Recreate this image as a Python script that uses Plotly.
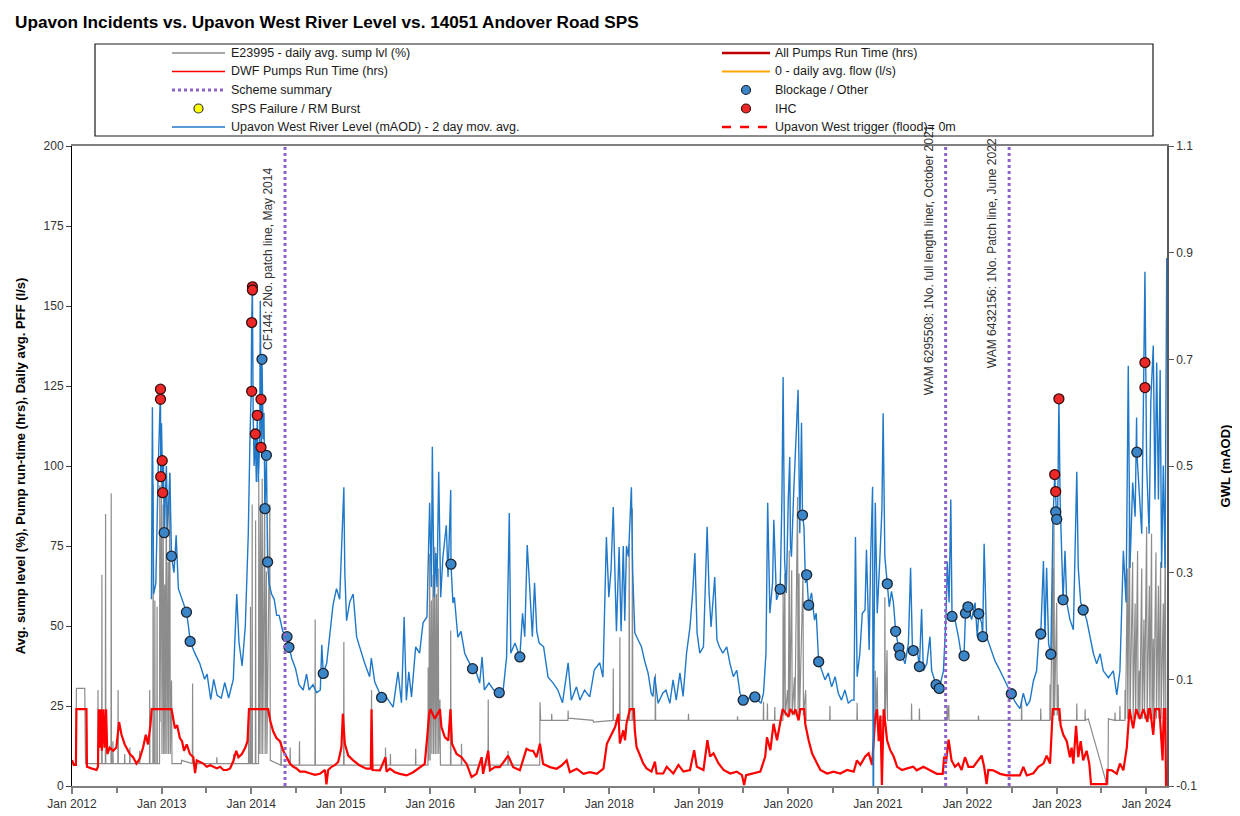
import plotly.graph_objects as go

# ---------------- DATA ----------------
river_dates = [
"2012-11-20","2012-11-24","2012-11-29","2012-12-08","2012-12-18","2012-12-27","2012-12-28","2012-12-31","2013-01-03","2013-01-05",
"2013-01-08","2013-01-11","2013-01-20","2013-01-25","2013-02-03","2013-02-10","2013-02-20","2013-03-01","2013-03-10","2013-03-25",
"2013-04-12","2013-04-20","2013-04-27","2013-05-15","2013-06-05","2013-06-25","2013-07-05","2013-07-20","2013-08-01","2013-08-15",
"2013-09-01","2013-09-15","2013-10-01","2013-10-20","2013-11-03","2013-11-12","2013-11-25","2013-12-08","2013-12-20","2013-12-27",
"2014-01-01","2014-01-03","2014-01-06","2014-01-09","2014-01-13","2014-01-18","2014-01-22","2014-01-26","2014-01-30","2014-02-05",
"2014-02-07","2014-02-10","2014-02-12","2014-02-14","2014-02-19","2014-02-22","2014-02-26","2014-03-04","2014-03-09","2014-03-15",
"2014-03-25","2014-04-05","2014-04-15","2014-04-25","2014-05-10","2014-05-27","2014-06-04","2014-06-15","2014-07-01","2014-07-15",
"2014-08-01","2014-08-15","2014-08-25","2014-09-10","2014-09-25","2014-10-10","2014-10-16","2014-10-22","2014-11-05","2014-11-20",
"2014-12-01","2014-12-15","2014-12-28","2015-01-14","2015-01-18","2015-01-25","2015-02-07","2015-02-21","2015-03-07","2015-03-20",
"2015-04-09","2015-04-29","2015-05-06","2015-05-20","2015-06-17","2015-07-06","2015-08-03","2015-08-23","2015-09-06","2015-09-17",
"2015-09-26","2015-10-06","2015-10-17","2015-11-03","2015-11-19","2015-12-03","2015-12-19","2015-12-30","2016-01-06","2016-01-10",
"2016-01-17","2016-01-24","2016-01-29","2016-02-05","2016-02-13","2016-02-22","2016-03-07","2016-03-14","2016-03-25","2016-03-26",
"2016-04-03","2016-04-09","2016-04-23","2016-05-06","2016-05-21","2016-06-03","2016-06-22","2016-07-08","2016-07-21","2016-07-31",
"2016-08-09","2016-08-28","2016-09-16","2016-10-09","2016-10-25","2016-11-08","2016-11-19","2016-11-25","2016-12-12","2017-01-01",
"2017-01-12","2017-01-21","2017-01-31","2017-02-10","2017-02-21","2017-03-02","2017-03-11","2017-03-21","2017-04-08","2017-04-26",
"2017-05-17","2017-06-05","2017-06-24","2017-07-17","2017-07-30","2017-08-20","2017-09-03","2017-09-22","2017-10-13","2017-11-01",
"2017-11-23","2017-12-06","2017-12-20","2017-12-30","2018-01-08","2018-01-17","2018-01-30","2018-02-10","2018-02-18","2018-02-27",
"2018-03-05","2018-03-12","2018-03-20","2018-04-01","2018-04-06","2018-04-15","2018-04-28","2018-05-12","2018-05-27","2018-06-08",
"2018-06-21","2018-06-28","2018-07-05","2018-07-19","2018-08-07","2018-08-20","2018-09-05","2018-09-18","2018-10-01","2018-10-16",
"2018-10-29","2018-11-12","2018-11-26","2018-12-07","2018-12-16","2018-12-25","2019-01-05","2019-01-20","2019-02-04","2019-02-12",
"2019-02-20","2019-03-07","2019-03-16","2019-03-26","2019-04-09","2019-04-25","2019-05-08","2019-05-22","2019-06-05","2019-06-18",
"2019-07-01","2019-07-21","2019-08-04","2019-08-18","2019-08-31","2019-09-12","2019-09-22","2019-10-02","2019-10-09","2019-10-18",
"2019-10-29","2019-11-03","2019-11-14","2019-11-29","2019-12-06","2019-12-11","2019-12-17","2019-12-24","2020-01-01","2020-01-07",
"2020-01-10","2020-01-14","2020-01-23","2020-02-10","2020-02-17","2020-02-24","2020-02-28","2020-03-05","2020-03-11","2020-03-16",
"2020-03-24","2020-04-05","2020-04-17","2020-04-24","2020-05-04","2020-05-16","2020-05-30","2020-06-12","2020-06-26","2020-07-10",
"2020-07-23","2020-08-05","2020-08-19","2020-09-02","2020-09-15","2020-09-25","2020-10-01","2020-10-08","2020-10-19","2020-10-29",
"2020-11-09","2020-11-15","2020-11-26","2020-12-02","2020-12-10","2020-12-13","2020-12-15","2020-12-21","2020-12-29","2021-01-09",
"2021-01-17","2021-01-22","2021-01-29","2021-02-08","2021-02-16","2021-02-25","2021-03-05","2021-03-14","2021-03-27","2021-04-01",
"2021-04-08","2021-04-21","2021-05-05","2021-05-14","2021-05-22","2021-05-25","2021-06-08","2021-06-19","2021-06-28","2021-07-05",
"2021-07-19","2021-08-01","2021-08-08","2021-08-26","2021-09-08","2021-09-25","2021-10-05","2021-10-11","2021-10-18","2021-10-25",
"2021-10-30","2021-11-11","2021-11-25","2021-12-08","2021-12-18","2021-12-24","2022-01-03","2022-01-18","2022-02-01","2022-02-10",
"2022-02-16","2022-02-28","2022-03-04","2022-03-10","2022-03-20","2022-04-03","2022-04-23","2022-05-14","2022-06-03","2022-06-29",
"2022-07-14","2022-08-03","2022-08-17","2022-08-31","2022-09-13","2022-09-27","2022-10-10","2022-10-21","2022-10-27","2022-11-07",
"2022-11-13","2022-11-20","2022-11-28","2022-12-07","2022-12-16","2022-12-23","2022-12-27","2022-12-31","2023-01-04","2023-01-09",
"2023-01-14","2023-01-26","2023-02-03","2023-02-10","2023-02-23","2023-03-09","2023-03-23","2023-03-29","2023-04-08","2023-04-18",
"2023-05-02","2023-05-16","2023-05-30","2023-06-12","2023-06-26","2023-07-09","2023-07-30","2023-08-19","2023-09-02","2023-09-15",
"2023-09-29","2023-10-10","2023-10-19","2023-10-26","2023-11-06","2023-11-16","2023-11-22","2023-11-23","2023-12-03","2023-12-13",
"2023-12-20","2023-12-26","2024-01-02","2024-01-12","2024-01-19","2024-01-29","2024-02-05","2024-02-12","2024-02-19","2024-02-26",
"2024-03-03","2024-03-10","2024-03-17","2024-03-24"]
river_level = [
0.25,0.61,0.26,0.28,0.50,0.645,0.48,0.58,0.51,0.45,
0.52,0.375,0.50,0.38,0.487,0.331,0.30,0.37,0.27,0.25,
0.226,0.20,0.171,0.15,0.13,0.10,0.11,0.062,0.10,0.07,
0.065,0.094,0.065,0.10,0.26,0.17,0.125,0.20,0.37,0.55,
0.64,0.77,0.836,0.60,0.50,0.56,0.47,0.595,0.47,0.55,
0.81,0.625,0.535,0.70,0.55,0.60,0.42,0.52,0.32,0.28,
0.26,0.25,0.22,0.22,0.19,0.18,0.16,0.14,0.12,0.09,
0.08,0.11,0.08,0.09,0.075,0.08,0.165,0.111,0.13,0.19,
0.24,0.27,0.25,0.46,0.30,0.21,0.245,0.26,0.18,0.16,
0.13,0.105,0.14,0.095,0.066,0.067,0.048,0.114,0.056,0.217,
0.061,0.114,0.067,0.161,0.149,0.206,0.217,0.431,0.273,0.536,
0.254,0.337,0.273,0.489,0.254,0.329,0.389,0.292,0.455,0.316,
0.243,0.254,0.179,0.19,0.149,0.136,0.120,0.112,0.093,0.142,
0.080,0.093,0.080,0.075,0.08,0.142,0.412,0.149,0.168,0.142,
0.224,0.18,0.352,0.273,0.18,0.281,0.19,0.168,0.161,0.104,
0.093,0.08,0.056,0.131,0.061,0.086,0.061,0.08,0.067,0.118,
0.131,0.104,0.367,0.254,0.305,0.423,0.19,0.348,0.19,0.35,
0.21,0.35,0.33,0.46,0.305,0.187,0.174,0.161,0.131,0.112,
0.074,0.068,0.105,0.055,0.074,0.08,0.055,0.099,0.061,0.112,
0.068,0.149,0.198,0.262,0.337,0.187,0.149,0.161,0.386,0.262,
0.198,0.292,0.174,0.161,0.149,0.161,0.13,0.105,0.117,0.074,
0.061,0.061,0.074,0.067,0.061,0.055,0.074,0.149,0.431,0.224,
0.281,0.399,0.249,0.269,0.436,0.667,0.324,0.262,0.436,0.517,
0.349,0.33,0.449,0.643,0.374,0.581,0.408,0.386,0.281,0.296,
0.239,0.262,0.211,0.224,0.133,0.117,0.099,0.112,0.086,0.105,
0.074,0.061,0.08,0.055,0.061,0.061,0.367,0.105,0.149,0.224,
0.23,0.343,0.155,0.33,0.461,-0.3,0.13,0.431,0.224,0.33,
0.418,0.599,0.33,0.279,0.236,0.265,0.244,0.190,0.159,0.145,
0.148,0.129,0.167,0.309,0.148,0.154,0.161,0.124,0.232,0.116,
0.129,0.18,0.116,0.090,0.083,0.116,0.212,0.321,0.244,0.437,
0.218,0.212,0.18,0.142,0.144,0.224,0.236,0.212,0.244,0.18,
0.223,0.205,0.180,0.354,0.18,0.161,0.135,0.116,0.097,0.073,
0.058,0.045,0.074,0.05,0.06,0.097,0.116,0.193,0.185,0.322,
0.18,0.309,0.167,0.147,0.399,0.484,0.452,0.400,0.414,0.626,
0.437,0.249,0.341,0.244,0.212,0.193,0.489,0.309,0.244,0.230,
0.212,0.18,0.148,0.129,0.148,0.116,0.103,0.116,0.071,0.116,
0.341,0.244,0.688,0.309,0.469,0.405,0.591,0.526,0.437,0.373,
0.629,0.864,0.501,0.373,0.623,0.726,0.437,0.694,0.437,0.68,
0.309,0.501,0.309,0.89]

pump_dates = [
"2012-01-01","2012-01-08","2012-01-17","2012-01-19","2012-02-29","2012-03-02","2012-03-20","2012-04-10","2012-04-16","2012-04-19",
"2012-04-23","2012-04-28","2012-05-02","2012-05-08","2012-05-13","2012-05-19","2012-05-24","2012-06-03","2012-06-17","2012-06-30",
"2012-07-11","2012-07-21","2012-08-03","2012-08-24","2012-09-06","2012-09-20","2012-10-03","2012-10-17","2012-10-28","2012-11-06",
"2012-11-16","2012-11-21","2013-02-10","2013-02-17","2013-02-24","2013-03-05","2013-03-16","2013-03-25","2013-04-02","2013-04-13",
"2013-04-26","2013-05-10","2013-05-17","2013-05-24","2013-06-07","2013-06-20","2013-07-04","2013-07-18","2013-07-31","2013-08-14",
"2013-08-27","2013-09-10","2013-09-24","2013-10-07","2013-10-21","2013-11-01","2013-11-10","2013-11-24","2013-12-08","2013-12-17",
"2013-12-23","2014-03-11","2014-03-21","2014-04-01","2014-04-14","2014-04-28","2014-05-12","2014-05-25","2014-06-08","2014-06-22",
"2014-07-05","2014-07-19","2014-08-08","2014-08-28","2014-09-18","2014-10-08","2014-10-29","2014-11-04","2014-11-11","2014-11-25",
"2014-12-08","2014-12-22","2015-01-04","2015-01-10","2015-01-14","2015-01-18","2015-02-01","2015-02-21","2015-03-20","2015-04-16",
"2015-05-04","2015-05-07","2015-05-11","2015-06-10","2015-07-03","2015-07-07","2015-07-21","2015-08-10","2015-08-31","2015-09-27",
"2015-10-24","2015-11-20","2015-12-10","2015-12-20","2015-12-28","2016-01-02","2016-01-20","2016-02-03","2016-02-10","2016-02-16",
"2016-03-01","2016-03-15","2016-03-24","2016-03-30","2016-04-18","2016-05-08","2016-05-29","2016-06-18","2016-07-08","2016-07-29",
"2016-08-04","2016-08-25","2016-09-01","2016-09-21","2016-10-11","2016-11-01","2016-11-14","2016-12-05","2017-01-01","2017-01-28",
"2017-02-10","2017-02-24","2017-03-10","2017-03-24","2017-04-06","2017-05-04","2017-05-31","2017-06-20","2017-07-11","2017-07-24",
"2017-08-21","2017-09-17","2017-10-14","2017-11-11","2017-12-08","2017-12-22","2018-01-11","2018-01-25","2018-02-07","2018-02-13",
"2018-02-27","2018-03-06","2018-03-12","2018-03-19","2018-03-26","2018-04-11","2018-04-15","2018-04-22","2018-05-06","2018-05-19",
"2018-06-02","2018-06-22","2018-07-06","2018-07-13","2018-08-09","2018-08-23","2018-09-19","2018-10-10","2018-10-30","2018-11-26",
"2018-12-13","2018-12-24","2019-01-20","2019-02-05","2019-02-16","2019-03-02","2019-03-22","2019-04-12","2019-05-09","2019-06-05",
"2019-06-26","2019-07-05","2019-07-13","2019-08-12","2019-09-09","2019-09-29","2019-10-06","2019-10-20","2019-11-02","2019-11-16",
"2019-11-29","2019-12-09","2020-01-02","2020-01-09","2020-01-23","2020-01-30","2020-02-12","2020-02-19","2020-03-06","2020-03-10",
"2020-03-24","2020-04-07","2020-04-27","2020-05-11","2020-06-07","2020-07-04","2020-07-31","2020-08-28","2020-09-24","2020-10-07",
"2020-10-21","2020-11-10","2020-11-24","2020-12-08","2020-12-21","2020-12-28","2021-01-04","2021-01-11","2021-01-17","2021-01-24",
"2021-01-31","2021-02-07","2021-02-20","2021-03-06","2021-03-20","2021-04-09","2021-04-30","2021-05-25","2021-06-08","2021-07-05",
"2021-08-01","2021-08-29","2021-09-22","2021-09-28","2021-10-05","2021-10-16","2021-10-28","2021-11-11","2021-11-25","2021-12-08",
"2021-12-22","2022-01-05","2022-01-25","2022-02-15","2022-02-28","2022-03-10","2022-03-20","2022-03-27","2022-04-16","2022-05-14",
"2022-06-10","2022-07-07","2022-08-03","2022-08-17","2022-08-31","2022-09-27","2022-10-17","2022-11-07","2022-11-20","2022-12-04",
"2022-12-15","2023-01-11","2023-01-16","2023-01-27","2023-02-10","2023-02-23","2023-03-02","2023-03-09","2023-03-20","2023-03-29",
"2023-04-08","2023-04-18","2023-05-02","2023-05-13","2023-05-20","2023-07-23","2023-07-26","2023-08-13","2023-09-02","2023-09-15",
"2023-09-29","2023-10-13","2023-10-24","2023-11-08","2023-11-20","2023-12-06","2023-12-20","2024-01-05","2024-01-10","2024-01-16",
"2024-01-29","2024-02-05","2024-02-23","2024-02-28","2024-03-07","2024-03-12","2024-03-18","2024-03-21"]
pump_hours = [
8.1,6.6,6.6,24,24,6.0,5.5,5.0,6,24,
12,24,11,24,12,24,10,12,11,12,
20,16,13,10,9,7,8.5,12,16,13,
19,24,24,21,18,19,15,14,11,13,
10,9,4,8,7.5,7,6,6.5,6,5.5,
6,5,5,5.5,8,11,9,10,12,14,
24,24,20,17,15,14,11,9,7,6,
5.5,4.5,4.5,4,3.5,3.8,5,0.5,5,6,
6.5,7.5,12,22.6,17,13.2,9.5,8,6.4,5.4,
5.5,24,5,4.9,9,4.5,5.4,4.3,3.8,3.3,
4.3,5.9,6.9,15.3,22.6,24,21,23,24,18.4,
15.3,14.2,24,13.2,10,9,6.9,2.8,3.8,9,
3.8,11,4.9,5.9,5.9,8,9.5,5.9,4.9,11.6,
11.1,11,9,13.2,6.9,5.9,5.4,6.4,8,4.3,
5.4,3.8,4.3,3.8,5.4,13.2,16.3,18.5,22.6,13.3,
17.4,14.3,19.5,21.6,24,24,17.4,12.2,9.2,7.1,
5.5,4.5,7.6,3.9,3.9,6,3.9,6.6,4.5,5,
11.2,6,5,14.3,9.2,10.2,7.1,5,3.9,4.5,
3.4,0.3,3.4,3.9,4.5,9.2,15.2,11.2,19.5,14.3,
20.5,24,21.6,24,22.5,24,20.5,24,24,19.5,
14.3,10.2,7.1,5,3.9,4.5,3.9,5,4.5,8,
6.6,9.2,10.2,6.6,21.6,24,14,22,0.3,24,
19.5,14.3,11.2,9.2,6,5,5.5,6,4.9,6,
4.9,3.8,3.8,9.2,7,14.5,8,6,7,5,
9,6,6,8,9.5,6,0.6,5,4.9,3.8,
3.3,3.3,3.3,6,3.3,4,6,7,9.5,7,
24,24,19,16,14,9,12,7,18.8,9,
14,8,11,7,0.6,0.6,5,4.9,3.8,7,
4.9,12,24,18,24,21,24,20,24,24,
16,24,24,18,8,24,24,0]

sump_dates = [
"2012-01-01","2012-01-17","2012-01-19","2012-02-22","2012-02-25","2012-04-15","2012-04-16","2012-04-17","2012-05-01","2012-05-02",
"2012-05-03","2012-05-16","2012-05-17","2012-05-18","2012-06-08","2012-06-09","2012-06-10","2012-06-15","2012-06-16","2012-06-17",
"2012-07-06","2012-07-07","2012-07-08","2012-08-02","2012-08-03","2012-08-04","2012-08-23","2012-08-24","2012-08-25","2012-10-02",
"2012-10-03","2012-10-04","2012-11-12","2012-11-13","2012-11-14","2012-11-26","2012-11-27","2012-11-28","2012-12-03","2012-12-04",
"2012-12-05","2012-12-12","2012-12-13","2012-12-14","2012-12-23","2012-12-24","2012-12-25","2012-12-31","2013-01-02","2013-01-07",
"2013-01-09","2013-01-13","2013-01-15","2013-01-20","2013-01-22","2013-01-27","2013-01-29","2013-02-03","2013-02-05","2013-02-10",
"2013-02-12","2013-03-22","2013-03-23","2013-05-06","2013-05-07","2013-05-08","2013-08-13","2013-08-14","2013-08-15","2013-10-20",
"2013-10-21","2013-10-22","2013-12-21","2013-12-22","2013-12-23","2013-12-28","2013-12-29","2013-12-30","2014-01-04","2014-01-05",
"2014-01-06","2014-01-18","2014-01-19","2014-01-20","2014-01-31","2014-02-01","2014-02-03","2014-02-08","2014-02-10","2014-02-15",
"2014-02-17","2014-02-25","2014-02-27","2014-03-04","2014-03-06","2014-03-18","2014-03-20","2014-05-02","2014-05-03","2014-05-04",
"2014-06-08","2014-06-09","2014-06-10","2014-07-16","2014-07-17","2014-07-18","2014-09-18","2014-09-19","2014-09-20","2015-01-13",
"2015-01-14","2015-01-15","2015-05-06","2015-05-07","2015-05-08","2015-07-02","2015-07-03","2015-07-04","2015-07-22","2015-07-23",
"2015-07-24","2015-11-02","2015-11-03","2015-11-04","2015-12-23","2015-12-24","2015-12-26","2015-12-30","2016-01-01","2016-01-06",
"2016-01-08","2016-01-13","2016-01-15","2016-01-20","2016-01-22","2016-01-27","2016-01-29","2016-02-03","2016-02-05","2016-02-10",
"2016-02-12","2016-03-24","2016-03-25","2016-03-26","2016-05-07","2016-05-08","2016-05-09","2016-07-31","2016-08-01","2016-08-02",
"2016-08-24","2016-08-25","2016-08-26","2016-11-13","2016-11-14","2016-11-15","2017-03-23","2017-03-24","2017-03-27","2017-05-10",
"2017-05-11","2017-05-12","2017-07-16","2017-07-17","2017-07-18","2017-10-27","2017-10-28","2018-01-16","2018-01-17","2018-01-18",
"2018-02-12","2018-02-13","2018-02-14","2018-03-22","2018-03-23","2018-03-25","2018-04-04","2018-04-05","2018-04-07","2018-07-07",
"2018-07-08","2018-07-09","2018-11-19","2018-11-20","2018-11-21","2019-06-07","2019-06-08","2019-06-09","2019-09-21","2019-09-22",
"2019-09-23","2019-10-07","2019-10-08","2019-10-09","2019-11-06","2019-11-07","2019-11-08","2019-12-10","2019-12-11","2019-12-13",
"2019-12-18","2019-12-20","2019-12-29","2020-01-01","2020-01-05","2020-01-07","2020-01-15","2020-01-17","2020-01-26","2020-01-28",
"2020-02-08","2020-02-10","2020-02-14","2020-02-16","2020-03-01","2020-03-03","2020-03-12","2020-03-14","2020-06-18","2020-06-19",
"2020-06-20","2020-10-07","2020-10-08","2020-10-09","2020-12-20","2020-12-21","2020-12-23","2020-12-29","2020-12-31","2021-01-28",
"2021-01-29","2021-01-31","2021-02-07","2021-02-09","2021-05-17","2021-05-18","2021-05-19","2021-06-18","2021-06-19","2021-06-20",
"2021-10-09","2021-10-10","2021-10-11","2021-10-17","2021-10-18","2022-02-14","2022-02-15","2022-02-16","2022-08-09","2022-08-10",
"2022-08-11","2022-10-26","2022-10-27","2022-10-28","2022-12-03","2022-12-04","2022-12-06","2022-12-15","2022-12-17","2022-12-20",
"2022-12-22","2022-12-31","2023-01-02","2023-01-06","2023-01-08","2023-03-22","2023-03-23","2023-03-24","2023-04-25","2023-04-26",
"2023-04-27","2023-05-09","2023-07-23","2023-07-28","2023-07-30","2023-08-25","2023-08-26","2023-08-27","2023-09-14","2023-09-15",
"2023-09-16","2023-10-05","2023-10-06","2023-10-08","2023-10-15","2023-10-17","2023-10-24","2023-10-26","2023-11-06","2023-11-08",
"2023-11-16","2023-11-18","2023-11-26","2023-11-28","2023-12-03","2023-12-05","2023-12-13","2023-12-15","2023-12-22","2023-12-24",
"2024-01-02","2024-01-04","2024-01-13","2024-01-15","2024-01-22","2024-01-24","2024-01-29","2024-01-31","2024-02-09","2024-02-11",
"2024-02-19","2024-02-21","2024-02-28","2024-03-01","2024-03-10","2024-03-12","2024-03-18","2024-03-20","2024-03-24"]
sump_level = [
7,7,30.5,30.5,7,7,30,7,7,66,
7,7,85,7,7,91.5,7,7,14,7,
7,30,7,7,10,7,7,12,7,7,
11,7,7,30,7,7,94,7,7,58,
7,7,56,7,7,94,20,96,10,88,
10,63,10,94,10,70,10,98,10,33,
7,7,8,7,32,7,7,9,7,7,
10,7,7,22,7,7,56,7,7,88,
7,7,83,7,7,96,10,88,10,96,
10,92,10,67,10,88,8,6.5,14,6.5,
6.5,12,6.5,6.5,14,6.5,6.5,52,6.5,6.5,
45,6.5,6.5,30,6.5,6.5,12,6.5,6.5,10,
6.5,6.5,11.6,6.5,6.5,37,8,72.6,8,58,
10,66,10,74.7,10,60,10,68,10,27,
6.5,6.5,48.6,6.5,6.5,13.2,6.5,6.5,9,6.5,
6.5,27,6.5,6.5,11,6.5,6.5,26.2,20.5,20.5,
22.6,20.5,20.5,23.6,21.2,20.5,20,20.5,36.7,20.5,
20.5,46.5,20.5,20.5,75.7,20.5,20.5,86.7,20.5,20.5,
35.1,20.5,20.5,22.6,20.5,20.5,21.8,20.5,20.5,26.3,
20.5,20.5,25.8,20.5,20.5,24.7,20.5,20.5,61,22,
66.4,22,30,22,73.6,22,67.4,22,34,22,
90.3,22,66.4,22,66,22,30,20.5,20.5,25,
20.5,20.5,26,20.5,20.5,36,20.5,34,20.5,20.5,
59,20.5,42.4,20.5,20.5,25.8,20.5,20.5,24.2,20.5,
20.5,25.3,20.5,25.3,20.5,20.5,22,20.5,20.5,26.9,
20.5,20.5,24.2,20.5,20.5,31.7,20.5,68,22,82.9,
22,57.3,22,31.7,20.5,20.5,25.8,20.5,20.5,24,
20.5,21,0.6,0.6,21,20.5,23,20.5,20.5,25,
20.5,20.5,30,21,68,21,89,21,70,21,
57,21,73.4,21,36,21,68,21,52,21,
81,21,62.6,21,78.8,21,46,21,73,21,
62.6,21,70,21,57,21,77,21,21]

blockage_dates = ["2013-01-11","2013-02-10","2013-04-12","2013-04-27","2014-02-14","2014-02-26","2014-03-04","2014-03-09",
                  "2014-05-27","2014-06-04","2014-10-22","2015-06-17","2016-03-26","2016-06-22","2016-10-09","2017-01-01",
                  "2019-07-01","2019-08-18","2019-11-29","2020-02-28","2020-03-16","2020-03-24","2020-05-04","2021-02-08",
                  "2021-03-14","2021-03-27","2021-04-01","2021-05-25","2021-06-19","2021-08-26","2021-09-08","2021-10-30",
                  "2021-12-18","2021-12-24","2022-01-03","2022-02-16","2022-03-04","2022-06-29","2022-10-27","2022-12-07",
                  "2022-12-27","2022-12-31","2023-01-26","2023-04-18","2023-11-23"]
blockage_level = [0.375,0.331,0.226,0.171,0.700,0.420,0.520,0.320,
                  0.180,0.160,0.111,0.066,0.316,0.120,0.075,0.142,
                  0.061,0.067,0.269,0.408,0.296,0.239,0.133,0.279,
                  0.190,0.159,0.145,0.154,0.124,0.090,0.083,0.218,
                  0.144,0.224,0.236,0.223,0.180,0.073,0.185,0.147,
                  0.414,0.400,0.249,0.230,0.526]

ihc_dates = ["2012-12-27","2012-12-27","2012-12-28","2013-01-03","2013-01-05","2014-01-03","2014-01-03","2014-01-06",
             "2014-01-06","2014-01-18","2014-01-26","2014-02-10","2014-02-10","2022-12-23","2022-12-27","2023-01-09",
             "2023-12-26","2023-12-26"]
ihc_level = [0.644,0.625,0.480,0.510,0.450,0.769,0.640,0.836,
             0.830,0.560,0.595,0.625,0.535,0.484,0.452,0.626,
             0.694,0.647]

scheme_dates = ["2014-05-19", "2021-10-04", "2022-06-20"]
scheme_labels = ["CF144: 2No. patch line, May 2014",
                 "WAM 6295508: 1No. full length liner, October 2021",
                 "WAM 6432156: 1No. Patch line, June 2022"]

left_ticks = [0, 25, 50, 75, 100, 125, 150, 175, 200]
gwl_tickvals = [-0.1, 0.1, 0.3, 0.5, 0.7, 0.9, 1.1]
gwl_ticktext = ["-0.1", "0.1", "0.3", "0.5", "0.7", "0.9", "1.1"]

legend_left = ["E23995 - daily avg. sump lvl (%)", "DWF Pumps Run Time (hrs)", "Scheme summary",
               "SPS Failure / RM Burst", "Upavon West River Level (mAOD) - 2 day mov. avg."]
legend_right = ["All Pumps Run Time (hrs)", "0 - daily avg. flow (l/s)", "Blockage / Other",
                "IHC", "Upavon West trigger (flood)= 0m"]

TITLE = "Upavon Incidents vs. Upavon West River Level vs. 14051 Andover Road SPS"
YLEFT_TITLE = "Avg. sump level (%), Pump run-time (hrs), Daily avg. PFF (l/s)"
YRIGHT_TITLE = "GWL (mAOD)"

# ---------------- FIGURE ----------------
# The page body adds an 8 px offset, so the figure is 8 px smaller than the window
OFF = 8
W, H = 1232, 808
ML, MR, MT, MB = 64, 73, 138, 30
PW, PH = W - ML - MR, H - MT - MB
FONT = "Liberation Sans, Arial, Helvetica, sans-serif"

GREY = "#8c8c8c"
RED = "#ff0000"
BLUE = "#1f78c8"
PURPLE = "#8e63c9"


def xp(px):
    """page pixel x -> paper x"""
    return (px - OFF - ML) / PW


def yp(py):
    """page pixel y -> paper y"""
    return (H - MB - (py - OFF)) / PH


fig = go.Figure()
fig.add_trace(go.Scatter(x=sump_dates, y=sump_level, mode="lines", name=legend_left[0],
                         line=dict(color=GREY, width=1.2), yaxis="y", showlegend=False))
fig.add_trace(go.Scatter(x=pump_dates, y=pump_hours, mode="lines", name=legend_left[1],
                         line=dict(color=RED, width=2.2), yaxis="y", showlegend=False))
fig.add_trace(go.Scatter(x=river_dates, y=river_level, mode="lines", name=legend_left[4],
                         line=dict(color=BLUE, width=1.4), yaxis="y2", showlegend=False))
fig.add_trace(go.Scatter(x=blockage_dates, y=blockage_level, mode="markers", name=legend_right[2],
                         marker=dict(size=10, color="#3a86c8", line=dict(color="#1b2430", width=1.3)),
                         yaxis="y2", showlegend=False))
fig.add_trace(go.Scatter(x=ihc_dates, y=ihc_level, mode="markers", name=legend_right[3],
                         marker=dict(size=10, color="#ec2828", line=dict(color="#3a0d0d", width=1.3)),
                         yaxis="y2", showlegend=False))

shapes = []
annotations = []
# scheme lines + labels
for d, lab, bottom in zip(scheme_dates, scheme_labels, [352, 397, 370]):
    shapes.append(dict(type="line", xref="x", yref="paper", x0=d, x1=d, y0=0, y1=1,
                       line=dict(color=PURPLE, width=3, dash="dot"), layer="above"))
    annotations.append(dict(x=d, xref="x", xshift=-17, y=yp(bottom), yref="paper",
                            text=lab, textangle=-90, showarrow=False, xanchor="center", yanchor="bottom",
                            font=dict(family=FONT, size=12, color="#333333")))

# legend box
shapes.append(dict(type="rect", xref="paper", yref="paper", x0=xp(95), x1=xp(1153), y0=yp(136), y1=yp(44),
                   line=dict(color="#1a1a1a", width=1.2), fillcolor="white", layer="above"))
rows = [53, 71.5, 90, 108.5, 127]
left_styles = [("line", GREY, 1.5, "solid"), ("line", RED, 1.5, "solid"), ("line", PURPLE, 3, "dot"),
               ("circle", "#ffff00", "#333333", None), ("line", BLUE, 1.5, "solid")]
right_styles = [("line", "#c00000", 2.5, "solid"), ("line", "#ffa500", 2, "solid"),
                ("circle", "#3a86c8", "#1b2430", None), ("circle", "#ec2828", "#3a0d0d", None),
                ("line", RED, 2.5, "dash")]
for (labels, styles, sx0, sx1, tx) in [(legend_left, left_styles, 172, 225, 229),
                                        (legend_right, right_styles, 722, 770, 773)]:
    for lab, st, ry in zip(labels, styles, rows):
        if st[0] == "line":
            shapes.append(dict(type="line", xref="paper", yref="paper", x0=xp(sx0), x1=xp(sx1),
                               y0=yp(ry), y1=yp(ry), line=dict(color=st[1], width=st[2], dash=st[3]),
                               layer="above"))
        else:
            cx = (sx0 + sx1) / 2
            shapes.append(dict(type="circle", xref="paper", yref="paper", xsizemode="pixel",
                               ysizemode="pixel", xanchor=xp(cx), yanchor=yp(ry), x0=-4.5, x1=4.5,
                               y0=-4.5, y1=4.5, fillcolor=st[1], line=dict(color=st[2], width=1.2),
                               layer="above"))
        annotations.append(dict(x=xp(tx), y=yp(ry), xref="paper", yref="paper", text=lab,
                                showarrow=False, xanchor="left", yanchor="middle",
                                font=dict(family=FONT, size=12.5, color="#1a1a1a")))

fig.update_layout(
    width=W, height=H,
    margin=dict(l=ML, r=MR, t=MT, b=MB, autoexpand=False),
    paper_bgcolor="white", plot_bgcolor="white",
    showlegend=False,
    font=dict(family=FONT, size=12, color="#333333"),
    title=dict(text=TITLE, x=7 / W, xanchor="left", xref="container", y=1 - 14 / H,
               yref="container", yanchor="middle",
               font=dict(family=FONT, size=17.2, color="#000000", weight="bold")),
    xaxis=dict(type="date", range=["2012-01-01", "2024-03-25"], tickformat="%b %Y", dtick="M12",
               tick0="2012-01-01", ticks="outside", ticklen=6, tickwidth=1.5, tickcolor="#7f7f7f",
               showline=True, linecolor="#7f7f7f", linewidth=2, mirror=True, showgrid=False,
               zeroline=False, automargin=False, tickfont=dict(size=12, color="#333333"),
               minor=dict(dtick="M6", ticks="outside", ticklen=5, tickcolor="#7f7f7f", tickwidth=1.5,
                          showgrid=False)),
    yaxis=dict(range=[0, 200], tickvals=left_ticks, ticks="outside", ticklen=5, tickcolor="#404040",
               showline=True, linecolor="#000000", linewidth=1, showgrid=False, zeroline=False,
               automargin=False, tickfont=dict(size=12, color="#333333"),
               title=dict(text=YLEFT_TITLE, standoff=15,
                          font=dict(family=FONT, size=13, color="#000000", weight="bold"))),
    yaxis2=dict(range=[-0.1, 1.1], overlaying="y", side="right", tickvals=gwl_tickvals,
                ticktext=gwl_ticktext, ticks="outside", ticklen=5, tickcolor="#595959",
                showline=True, linecolor="#595959", linewidth=1.5, showgrid=False, zeroline=False,
                automargin=False, tickfont=dict(size=12, color="#333333"),
                title=dict(text=YRIGHT_TITLE, standoff=25,
                           font=dict(family=FONT, size=13, color="#000000", weight="bold"))),
    shapes=shapes,
    annotations=annotations,
)

fig.write_html("out.html")
